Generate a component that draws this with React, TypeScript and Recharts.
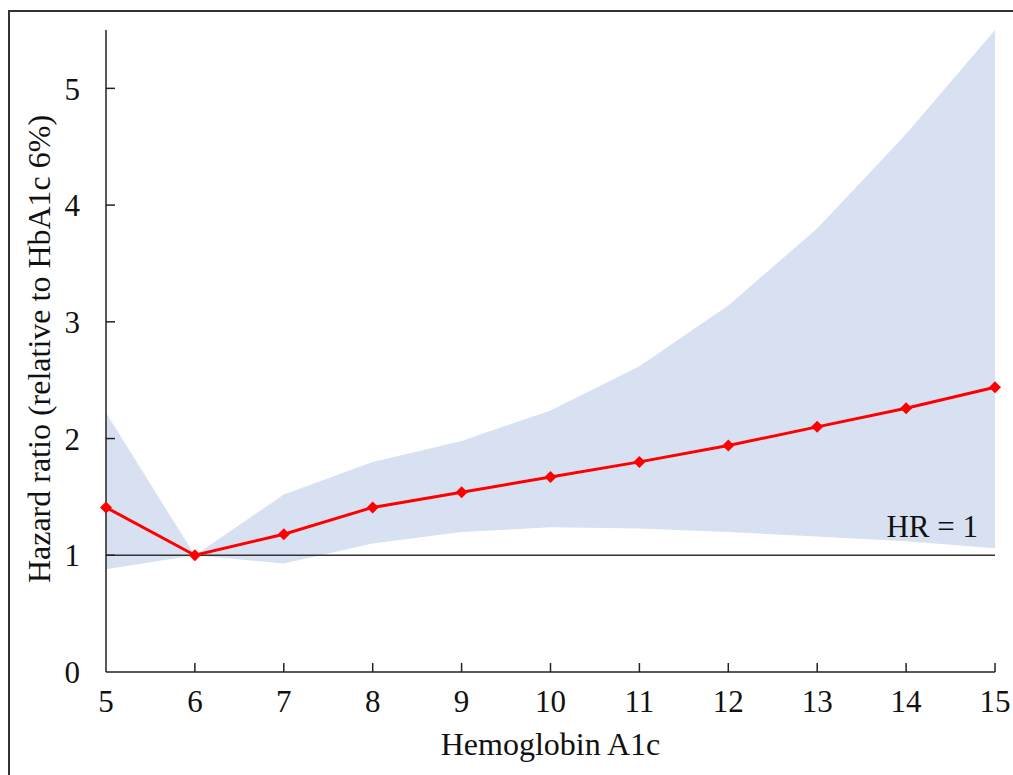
import React from 'react'
import {
  ComposedChart,
  Area,
  Line,
  XAxis,
  YAxis,
  ReferenceLine,
  Label
} from 'recharts'

const hba1c = [5, 6, 7, 8, 9, 10, 11, 12, 13, 14, 15]
const hazardRatio = [1.41, 1.0, 1.18, 1.41, 1.54, 1.67, 1.8, 1.94, 2.1, 2.26, 2.44]
const ciLower = [0.88, 1.0, 0.93, 1.1, 1.2, 1.24, 1.23, 1.2, 1.16, 1.12, 1.06]
const ciUpper = [2.22, 1.0, 1.52, 1.8, 1.98, 2.24, 2.62, 3.14, 3.8, 4.61, 5.5]
const yTicks = [0, 1, 2, 3, 4, 5]

const data = hba1c.map((x, i) => ({
  x,
  hr: hazardRatio[i],
  band: [ciLower[i], ciUpper[i]]
}))

const FONT = '"Liberation Serif", "Times New Roman", serif'
const AXIS = '#222'

const XTick = (props: any) => {
  const { x, y, payload } = props
  return (
    <g>
      {payload.value !== 5 && (
        <line x1={x} y1={y} x2={x} y2={y - 9} stroke={AXIS} strokeWidth={1.5} />
      )}
      <text x={x} y={y + 40} textAnchor="middle" fontSize={31} fontFamily={FONT} fill="#111">
        {payload.value}
      </text>
    </g>
  )
}

const YTick = (props: any) => {
  const { x, y, payload } = props
  return (
    <g>
      {payload.value !== 0 && (
        <line x1={x} y1={y} x2={x + 9} y2={y} stroke={AXIS} strokeWidth={1.5} />
      )}
      <text x={x - 26} y={y} dy="0.36em" textAnchor="end" fontSize={31} fontFamily={FONT} fill="#111">
        {payload.value}
      </text>
    </g>
  )
}

const Diamond = (props: any) => {
  const { cx, cy } = props
  if (cx == null || cy == null) return null
  const r = 6
  return (
    <polygon
      points={`${cx},${cy - r} ${cx + r},${cy} ${cx},${cy + r} ${cx - r},${cy}`}
      fill="#ff0000"
    />
  )
}

const YTitle = (props: any) => {
  const { viewBox } = props
  const cx = viewBox.x + 50
  const cy = viewBox.y + viewBox.height / 2 - 2
  return (
    <text
      x={cx}
      y={cy}
      transform={`rotate(-90, ${cx}, ${cy})`}
      textAnchor="middle"
      fontSize={32}
      fontFamily={FONT}
      fill="#111"
    >
      Hazard ratio (relative to HbA1c 6%)
    </text>
  )
}

const HrLabel = (props: any) => {
  const { viewBox } = props
  return (
    <text
      x={viewBox.x + viewBox.width - 17}
      y={viewBox.y - 18}
      textAnchor="end"
      fontSize={31}
      fontFamily={FONT}
      fill="#111"
    >
      HR = 1
    </text>
  )
}

export default function App() {
  return (
    <div style={{ position: 'absolute', left: 0, top: 0, width: 1013, height: 775, overflow: 'hidden', background: '#fff' }}>
      <div
        style={{
          position: 'absolute',
          left: 8,
          top: 10,
          width: 1040,
          height: 820,
          border: '2px solid #333'
        }}
      />
      <div style={{ position: 'absolute', left: 0, top: 0 }}>
        <ComposedChart
          width={1013}
          height={775}
          data={data}
          margin={{ top: 30, right: 18, left: 0, bottom: 0 }}
        >
          <XAxis
            dataKey="x"
            type="number"
            domain={[5, 15]}
            ticks={hba1c}
            interval={0}
            height={103}
            tickSize={0}
            tickMargin={0}
            tickLine={false}
            tick={<XTick />}
            axisLine={{ stroke: AXIS, strokeWidth: 1.5 }}
          >
            <Label
              value="Hemoglobin A1c"
              position="insideBottom"
              offset={20}
              style={{ fontSize: 32, fontFamily: FONT, fill: '#111' }}
            />
          </XAxis>
          <YAxis
            type="number"
            domain={[0, 5.5]}
            ticks={yTicks}
            interval={0}
            width={106}
            tickSize={0}
            tickMargin={0}
            tickLine={false}
            tick={<YTick />}
            axisLine={{ stroke: AXIS, strokeWidth: 1.5 }}
            allowDataOverflow
          >
            <Label content={<YTitle />} />
          </YAxis>
          <Area
            dataKey="band"
            stroke="none"
            fill="#d8e1f1"
            fillOpacity={1}
            isAnimationActive={false}
          />
          <ReferenceLine y={1} stroke="#333" strokeWidth={1.3}>
            <Label content={<HrLabel />} />
          </ReferenceLine>
          <Line
            dataKey="hr"
            stroke="#ff0000"
            strokeWidth={3}
            dot={<Diamond />}
            activeDot={false}
            isAnimationActive={false}
          />
        </ComposedChart>
      </div>
    </div>
  )
}
